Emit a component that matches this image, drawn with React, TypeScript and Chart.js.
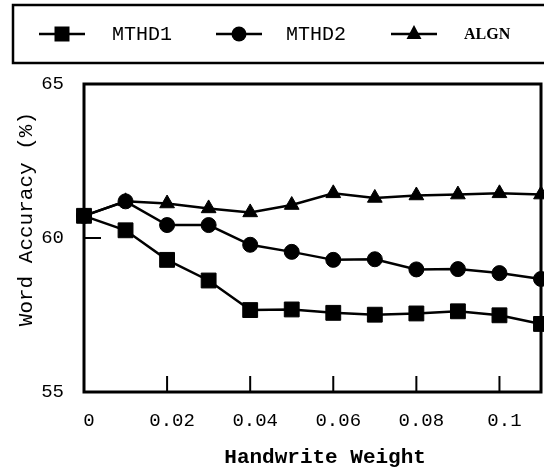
import React, { useEffect, useRef } from "react";
import { Chart, registerables } from "chart.js";

Chart.register(...registerables);

const xValues = [0, 0.01, 0.02, 0.03, 0.04, 0.05, 0.06, 0.07, 0.08, 0.09, 0.1, 0.11];
const mthd1 = [60.72, 60.25, 59.29, 58.62, 57.66, 57.68, 57.57, 57.51, 57.55, 57.62, 57.49, 57.21];
const mthd2 = [60.72, 61.19, 60.42, 60.42, 59.78, 59.55, 59.29, 59.31, 58.98, 58.99, 58.86, 58.67];
const algn = [60.72, 61.19, 61.12, 60.96, 60.83, 61.07, 61.45, 61.3, 61.38, 61.41, 61.45, 61.41];
const seriesLabels = ["MTHD1", "MTHD2", "ALGN"];
const xTickValues = [0, 0.02, 0.04, 0.06, 0.08, 0.1];
const xTickLabels = ["0", "0.02", "0.04", "0.06", "0.08", "0.1"];
const yTickValues = [55, 60, 65];
const yTickLabels = ["55", "60", "65"];
const xTitle = "Handwrite Weight";
const yTitle = "Word Accuracy (%)";

const MONO = "'Liberation Mono', 'DejaVu Sans Mono', monospace";

function drawMarker(ctx: CanvasRenderingContext2D, style: string, x: number, y: number) {
  ctx.beginPath();
  if (style === "rect") {
    ctx.rect(x - 7.5, y - 7.5, 15, 15);
  } else if (style === "circle") {
    ctx.arc(x, y, 7.5, 0, Math.PI * 2);
  } else {
    ctx.moveTo(x, y - 9);
    ctx.lineTo(x + 7.5, y + 5);
    ctx.lineTo(x - 7.5, y + 5);
    ctx.closePath();
  }
  ctx.fill();
}

const framePlugin = {
  id: "frame",
  beforeDatasetsDraw(chart: any) {
    const { ctx, chartArea } = chart;
    const xs = chart.scales.x;
    const ys = chart.scales.y;
    ctx.save();
    ctx.strokeStyle = "#000";
    ctx.lineWidth = 3;
    ctx.strokeRect(chartArea.left, chartArea.top, chartArea.right - chartArea.left, chartArea.bottom - chartArea.top);
    ctx.lineWidth = 2;
    ctx.beginPath();
    xTickValues.forEach((v) => {
      if (v === 0) return;
      const px = xs.getPixelForValue(v);
      ctx.moveTo(px, chartArea.bottom);
      ctx.lineTo(px, chartArea.bottom - 16);
    });
    yTickValues.forEach((v) => {
      if (v === ys.min || v === ys.max) return;
      const py = ys.getPixelForValue(v);
      ctx.moveTo(chartArea.left, py);
      ctx.lineTo(chartArea.left + 17, py);
    });
    ctx.stroke();
    ctx.restore();
  },
  afterDraw(chart: any) {
    const { ctx } = chart;
    ctx.save();
    ctx.strokeStyle = "#000";
    ctx.fillStyle = "#000";
    ctx.lineWidth = 2.5;
    ctx.strokeRect(13, 5, 600, 58);
    const items = [
      { lx: 39, text: 112, font: "20px " + MONO },
      { lx: 216, text: 286, font: "20px " + MONO },
      { lx: 391, text: 464, font: "bold 16px 'Liberation Serif', serif" },
    ];
    const y = 34;
    chart.data.datasets.forEach((ds: any, i: number) => {
      const it = items[i];
      ctx.lineWidth = 2.5;
      ctx.beginPath();
      ctx.moveTo(it.lx, y);
      ctx.lineTo(it.lx + 46, y);
      ctx.stroke();
      drawMarker(ctx, ds.pointStyle, it.lx + 23, y);
      ctx.font = it.font;
      ctx.textBaseline = "middle";
      ctx.textAlign = "left";
      ctx.fillText(ds.label, it.text, y + 1);
    });
    ctx.restore();
  },
};

export default function App() {
  const ref = useRef<HTMLCanvasElement>(null);
  useEffect(() => {
    if (!ref.current) return;
    const mk = (vals: number[]) => vals.map((v, i) => ({ x: xValues[i], y: v }));
    const base = {
      borderColor: "#000",
      backgroundColor: "#000",
      pointBackgroundColor: "#000",
      pointBorderColor: "#000",
      borderWidth: 2.5,
      pointBorderWidth: 1,
      tension: 0,
      clip: false as any,
    };
    const chart = new Chart(ref.current, {
      type: "line",
      data: {
        datasets: [
          { ...base, label: seriesLabels[0], data: mk(mthd1), pointStyle: "rect", pointRadius: 10.5 },
          { ...base, label: seriesLabels[1], data: mk(mthd2), pointStyle: "circle", pointRadius: 7.5 },
          { ...base, label: seriesLabels[2], data: mk(algn), pointStyle: "triangle", pointRadius: 8.5 },
        ],
      },
      options: {
        responsive: false,
        animation: false,
        events: [],
        layout: { autoPadding: false, padding: { left: 10, top: 84, right: 3, bottom: 0 } },
        plugins: { legend: { display: false }, tooltip: { enabled: false } },
        scales: {
          x: {
            type: "linear",
            min: 0,
            max: 0.11,
            grid: { display: false, drawTicks: false },
            border: { display: false },
            afterFit: (s: any) => {
              s.height = 78;
              s.paddingLeft = 0;
              s.paddingRight = 0;
            },
            afterBuildTicks: (s: any) => {
              s.ticks = xTickValues.map((v) => ({ value: v }));
            },
            ticks: {
              color: "#000",
              font: { family: MONO, size: 19 },
              padding: 18,
              labelOffset: 5,
              maxRotation: 0,
              autoSkip: false,
              callback: (v: any) => {
                const i = xTickValues.findIndex((t) => Math.abs(t - Number(v)) < 1e-9);
                return i >= 0 ? xTickLabels[i] : "";
              },
            },
            title: {
              display: true,
              text: "  " + xTitle,
              color: "#000",
              font: { family: MONO, size: 21, weight: "bold" },
              padding: { top: 0, bottom: 0 },
            },
          },
          y: {
            type: "linear",
            min: 55,
            max: 65,
            grid: { display: false, drawTicks: false },
            border: { display: false },
            afterFit: (s: any) => {
              s.width = 74;
            },
            afterBuildTicks: (s: any) => {
              s.ticks = yTickValues.map((v) => ({ value: v }));
            },
            ticks: {
              color: "#000",
              font: { family: MONO, size: 19 },
              padding: 20,
              callback: (v: any) => {
                const i = yTickValues.indexOf(Number(v));
                return i >= 0 ? yTickLabels[i] : "";
              },
            },
            title: {
              display: true,
              text: "   " + yTitle,
              color: "#000",
              font: { family: MONO, size: 21 },
              padding: { top: 4, bottom: 0 },
            },
          },
        },
      },
      plugins: [framePlugin],
    });
    return () => chart.destroy();
  }, []);
  return (
    <div style={{ position: "fixed", left: 0, top: 0, width: 544, height: 470, background: "#fff" }}>
      <canvas ref={ref} width={544} height={470} style={{ width: 544, height: 470, display: "block" }} />
    </div>
  );
}
